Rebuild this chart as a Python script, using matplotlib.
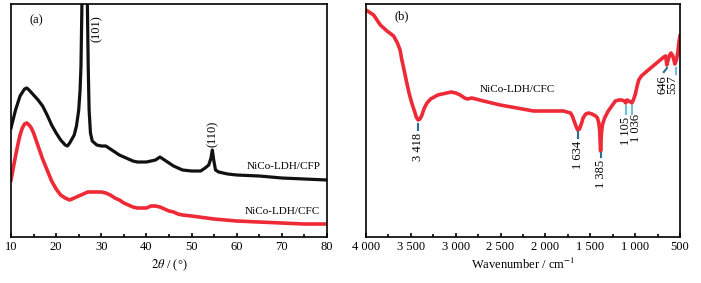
import numpy as np
import matplotlib
matplotlib.use('Agg')
import matplotlib.pyplot as plt

plt.rcParams['font.family'] = ['Liberation Serif', 'DejaVu Serif']
plt.rcParams['mathtext.fontset'] = 'stix'

# (a) XRD, intensity in arbitrary units
xrd_theta_cfp = [10, 11, 12, 13, 13.5, 14, 15, 16, 17, 18, 19, 20, 21, 22, 22.5, 23, 24, 24.5, 25,
                 25.3, 25.5, 25.8, 26.4, 26.9, 27.1, 27.3, 27.6, 28, 28.5, 29, 30, 31, 32, 33, 34,
                 35, 36, 37, 38, 40, 41, 42, 43, 44, 45, 46, 47, 48, 50, 52, 53, 53.8, 54.3, 54.6,
                 54.9, 55.3, 56, 58, 60, 65, 70, 75, 80]
xrd_int_cfp = [109, 127, 141, 148, 149, 147, 142, 137, 131, 122, 112, 104, 97, 92, 91, 94, 102, 111, 127,
               147, 171, 260, 330, 240, 171, 127, 104, 96, 94, 92, 91, 91, 88, 85, 82,
               80, 78, 76, 75, 75, 76, 77, 80, 77, 74, 71, 69, 67, 66, 66, 69, 72, 79, 87,
               77, 67, 65, 63, 62, 61, 59, 58, 57]
xrd_theta_cfc = [10, 10.5, 11, 11.5, 12, 12.5, 13, 13.5, 14, 14.5, 15, 16, 17, 18, 19, 20, 21, 22, 23,
                 24, 25, 26, 27, 28, 29, 30, 31, 32, 33, 34, 35, 36, 37, 38, 40, 41, 42, 43, 44,
                 45, 46, 47, 48, 50, 55, 60, 65, 70, 75, 80]
xrd_int_cfc = [57, 69, 81, 92, 102, 109, 113, 114, 112, 109, 104, 91, 78, 67, 56, 48, 42, 39, 37,
               39, 41, 43, 45, 45, 45, 45, 44, 42, 39, 37, 34, 32, 30, 29, 29, 31, 31, 30, 28,
               26, 25, 23, 22, 21, 18, 16, 15, 14, 13, 13]
xrd_peaks = [(26.6, '(101)'), (54.6, '(110)')]

# (b) FTIR, transmittance in arbitrary units
ir_wn = [4000, 3915, 3840, 3766, 3692, 3650, 3620, 3600, 3580, 3550, 3520, 3490, 3460, 3440, 3418,
         3400, 3380, 3350, 3320, 3280, 3200, 3100, 3050, 3000, 2950, 2900, 2870, 2820, 2690, 2504,
         2318, 2133, 1947, 1799, 1720, 1700, 1680, 1660, 1640, 1620, 1600, 1580, 1550, 1520, 1480,
         1440, 1420, 1405, 1395, 1385, 1375, 1365, 1340, 1300, 1260, 1220, 1180, 1150, 1120, 1105,
         1090, 1070, 1050, 1036, 1020, 1000, 980, 960, 930, 880, 800, 720, 680, 660, 646, 635, 615,
         600, 580, 565, 557, 540, 525, 510, 500]
ir_tr = [227, 222, 212, 206, 201, 194, 187, 177, 169, 156, 144, 134, 126, 120, 117,
         118, 121, 129, 134, 138, 142, 144, 145, 144, 142, 139, 138, 139, 136, 132,
         129, 126, 126, 126, 124, 121, 116, 111, 107, 108, 113, 119, 123, 124, 123,
         121, 119, 114, 106, 86, 104, 112, 119, 126, 131, 136, 137, 137, 136, 134,
         137, 136, 135, 134, 137, 142, 150, 157, 161, 165, 171, 177, 180, 181, 172, 176, 182,
         184, 181, 176, 173, 177, 184, 196, 201]
ir_bands = ['3 418', '1 634', '1 385', '1 105', '1 036', '646', '557']


def style_axis(ax):
    for s in ax.spines.values():
        s.set_linewidth(1.2)
    ax.tick_params(axis='x', which='both', direction='in', top=False, labelsize=9, pad=3)
    ax.tick_params(axis='x', which='major', length=3, width=1.2)
    ax.tick_params(axis='x', which='minor', length=2, width=1.2)
    ax.set_yticks([])


def main():
    fig = plt.figure(figsize=(7.01, 2.83), dpi=100)
    ax1 = fig.add_axes([0.0157, 0.1625, 0.4508, 0.8234])
    ax2 = fig.add_axes([0.5221, 0.1625, 0.4479, 0.8234])

    # XRD
    ax1.plot(xrd_theta_cfp, xrd_int_cfp, color='#111111', lw=2.3)
    ax1.plot(xrd_theta_cfc, xrd_int_cfc, color='#ee2a36', lw=2.6)
    ax1.set_xlim(10, 80)
    ax1.set_ylim(0, 233)
    ax1.set_xticks(np.arange(10, 81, 10))
    ax1.set_xticks(np.arange(15, 80, 10), minor=True)
    style_axis(ax1)
    ax1.set_xlabel(r'$2\theta$ / (°)', fontsize=9, labelpad=3)
    ax1.text(15.5, 217, '(a)', fontsize=9, ha='center', va='center')
    ax1.text(29.0, 222, xrd_peaks[0][1], rotation=90, fontsize=9, ha='center', va='top')
    ax1.text(xrd_peaks[1][0], 90, xrd_peaks[1][1], rotation=90, fontsize=9, ha='center', va='bottom')
    ax1.text(78.5, 71, 'NiCo-LDH/CFP', fontsize=8, ha='right', va='center')
    ax1.text(78.5, 26, 'NiCo-LDH/CFC', fontsize=8, ha='right', va='center')

    # FTIR
    ax2.plot(ir_wn, ir_tr, color='#ee2a36', lw=2.6)
    ax2.set_xlim(4000, 500)
    ax2.set_ylim(0, 233)
    ax2.set_xticks(np.arange(4000, 499, -500))
    ax2.set_xticklabels(['4 000', '3 500', '3 000', '2 500', '2 000', '1 500', '1 000', '500'])
    ax2.set_xticks(np.arange(3750, 500, -500), minor=True)
    style_axis(ax2)
    ax2.set_xlabel('Wavenumber / cm$^{-1}$', fontsize=9, labelpad=3)
    ax2.text(3600, 221, '(b)', fontsize=9, ha='center', va='center')
    ax2.text(2318, 147, 'NiCo-LDH/CFC', fontsize=8, ha='center', va='center')

    # band marks: tick x0, x1, y0, y1, label x, label top y, colour
    marks = [
        (3418, 3418, 113, 107, 3418, 104, '#2a6f8f'),
        (1634, 1634, 105, 99, 1634, 96, '#2a6f8f'),
        (1385, 1385, 84, 80, 1385, 77, '#2a6f8f'),
        (1105, 1105, 131, 123, 1105, 120, '#6cc0dc'),
        (1036, 1036, 131, 123, 985, 123, '#6cc0dc'),
        (645, 680, 169, 165, 700, 162, '#2a6f8f'),
        (545, 545, 169, 163, 581, 162, '#6cc0dc'),
    ]
    for lab, (x0, x1, y0, y1, lx, ly, c) in zip(ir_bands, marks):
        ax2.plot([x0, x1], [y0, y1], color=c, lw=1.5)
        ax2.text(lx, ly, lab, rotation=90, fontsize=9, ha='center', va='top')

    fig.savefig('out.png', dpi=100)


if __name__ == "__main__":
    main()
